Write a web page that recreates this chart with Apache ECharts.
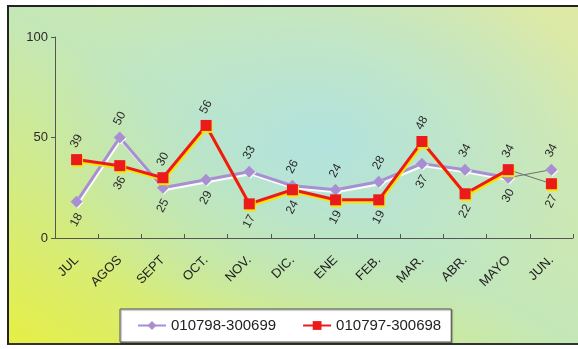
<!DOCTYPE html>
<html><head><meta charset="utf-8">
<script src="https://cdn.jsdelivr.net/npm/echarts@6/dist/echarts.min.js"></script>
<style>
html,body{margin:0;padding:0;background:#fff;}
#frame{position:absolute;left:7px;top:5px;width:571px;height:340px;box-sizing:border-box;
border-top:2px solid #222;border-left:2px solid #222;border-bottom:2px solid #333;
background:
radial-gradient(ellipse 50% 60% at 55% 40%, rgba(176,226,226,0.9), rgba(176,226,226,0) 100%),
linear-gradient(to top right, #e6ef46 0%, #d2eb86 25%, #c4e7b8 50%, #d0e9b0 75%, #dfe9a4 100%);}
#chart{position:absolute;left:0;top:0;width:578px;height:349px;}
</style></head>
<body>
<div id="frame"></div>
<div id="chart"></div>
<script>
const months = ['JUL','AGOS','SEPT','OCT.','NOV.','DIC.','ENE','FEB.','MAR.','ABR.','MAYO','JUN.'];
const nameA = '010798-300699';
const nameB = '010797-300698';
const valuesA = [18, 50, 25, 29, 33, 26, 24, 28, 37, 34, 30, 34];
const valuesB = [39, 36, 30, 56, 17, 24, 19, 19, 48, 22, 34, 27];
const yTicks = [0, 50, 100];

const purple = '#a78fd2';
const red = '#ec1b1b';
const last = months.length - 1;

function bodyData(v){ return v.map((x,i)=> i < last ? x : '-'); }
function tailData(v){ return v.map((x,i)=> i >= last-1 ? x : '-'); }
function labelled(v, other){
  return v.map((x,i)=>{
    const above = x >= other[i];
    return {value:x, label:{position: above ? 'top' : 'bottom', distance: above ? 13 : 12}};
  });
}
const labelBase = {show:true, rotate:62, align:'center', verticalAlign:'middle',
  color:'#2a2a2a', fontSize:12, fontFamily:'Liberation Sans, Arial, sans-serif'};

const chart = echarts.init(document.getElementById('chart'), null, {renderer:'canvas'});
chart.setOption({
  backgroundColor:'transparent',
  animation:false,
  grid:{left:55, right:5, top:37, bottom:111},
  xAxis:{type:'category', data:months, boundaryGap:true,
    axisLine:{lineStyle:{color:'#555', width:1}},
    axisTick:{show:true, inside:true, length:4, lineStyle:{color:'#555'}},
    axisLabel:{rotate:45, margin:20, color:'#222', fontSize:13, interval:0,
      fontFamily:'Liberation Sans, Arial, sans-serif'}},
  yAxis:{type:'value', min:yTicks[0], max:yTicks[yTicks.length-1], interval:yTicks[1]-yTicks[0],
    axisLine:{show:true, lineStyle:{color:'#555', width:1}},
    axisTick:{show:true, length:4, lineStyle:{color:'#555'}},
    splitLine:{show:false},
    axisLabel:{margin:7, color:'#2a2a2a', fontSize:13, fontFamily:'Liberation Sans, Arial, sans-serif'}},
  legend:{left:120, top:309, orient:'horizontal', backgroundColor:'#fff', borderColor:'#555', borderWidth:1,
    padding:[9,10,9,17], itemWidth:28, itemHeight:11, itemGap:26,
    textStyle:{color:'#222', fontSize:15, fontFamily:'Liberation Sans, Arial, sans-serif'},
    shadowColor:'rgba(0,0,0,0.4)', shadowOffsetX:1, shadowOffsetY:1, shadowBlur:1,
    data:[
      {name:nameA, itemStyle:{color:purple}, lineStyle:{color:purple, width:2, opacity:1}},
      {name:nameB, itemStyle:{color:red}, lineStyle:{color:red, width:2, opacity:1}}
    ]},
  series:[
    {type:'line', data:tailData(valuesA), showSymbol:false, silent:true, z:1,
      lineStyle:{color:'#6f6f6f', width:1}},
    {type:'line', data:tailData(valuesB), showSymbol:false, silent:true, z:1,
      lineStyle:{color:'#6f6f6f', width:1}},
    {type:'line', data:bodyData(valuesA), showSymbol:false, silent:true, z:2,
      lineStyle:{color:purple, width:3, shadowColor:'rgba(255,255,255,0.9)', shadowOffsetX:1, shadowOffsetY:2, shadowBlur:0}},
    {name:nameA, type:'line', data:labelled(valuesA, valuesB), symbol:'diamond', symbolSize:12, z:3,
      itemStyle:{color:purple, shadowColor:'rgba(255,255,255,0.8)', shadowOffsetX:1, shadowOffsetY:1},
      lineStyle:{opacity:0, width:0}, label:labelBase},
    {type:'line', data:bodyData(valuesB), showSymbol:false, silent:true, z:4,
      lineStyle:{color:red, width:3, shadowColor:'#f3e600', shadowOffsetX:1, shadowOffsetY:2, shadowBlur:0}},
    {name:nameB, type:'line', data:labelled(valuesB, valuesA), symbol:'rect', symbolSize:11, z:5,
      itemStyle:{color:red, shadowColor:'#f3e600', shadowOffsetX:1, shadowOffsetY:2},
      lineStyle:{opacity:0, width:0}, label:labelBase}
  ]
});
</script>
</body></html>
